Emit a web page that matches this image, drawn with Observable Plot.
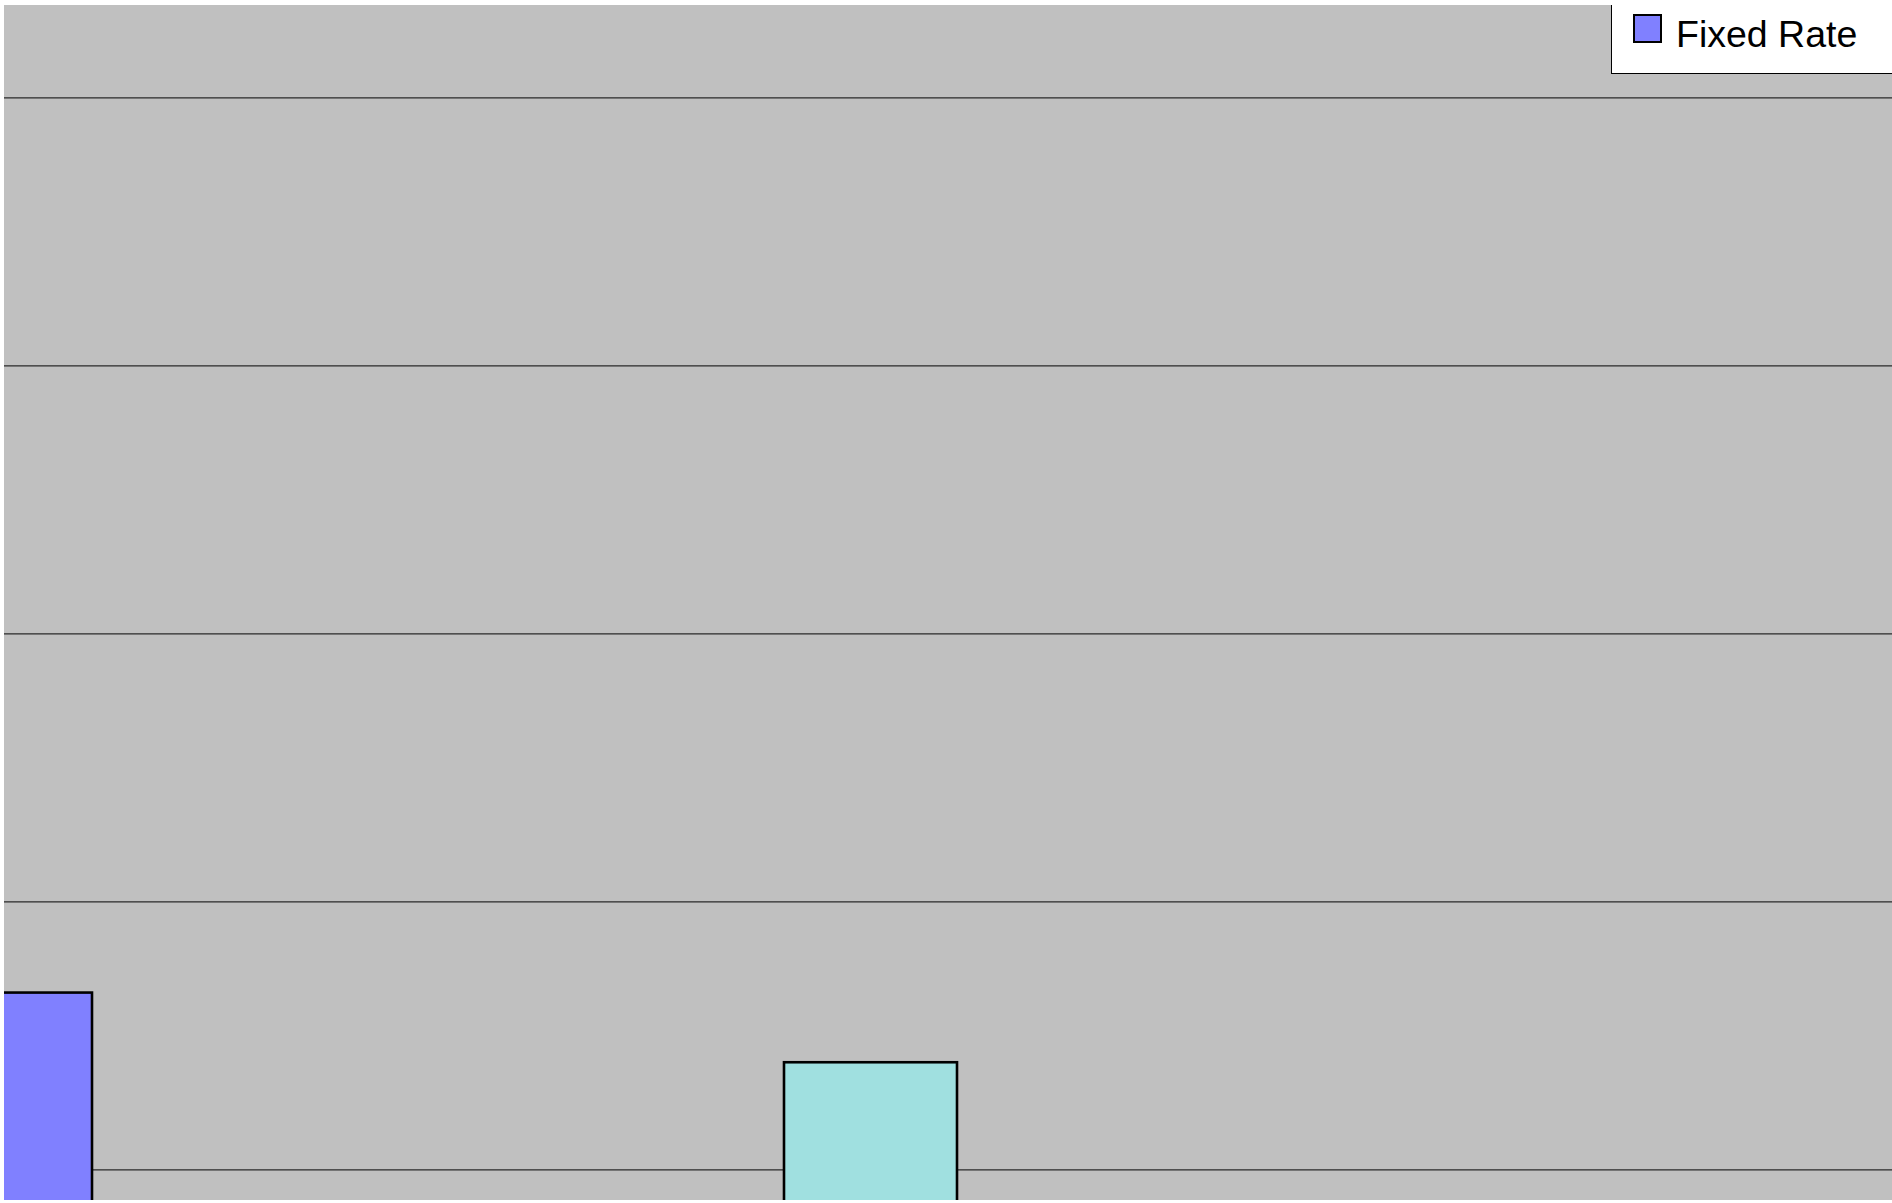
<!DOCTYPE html>
<html>
<head>
<meta charset="utf-8">
<script src="https://cdn.jsdelivr.net/npm/d3@7"></script>
<script src="https://cdn.jsdelivr.net/npm/@observablehq/plot@0.6"></script>
<style>
  html, body { margin: 0; padding: 0; background: #ffffff; }
  #wrap { position: relative; width: 1892px; height: 1203px; overflow: hidden; background: #ffffff; }
  #chart { position: absolute; left: 4px; top: 5px; }
  #legend {
    position: absolute; left: 1611px; top: 5px; width: 281px; height: 68px;
    background: #ffffff; border-left: 1px solid #000; border-bottom: 1px solid #000;
    font-family: "Liberation Sans", Arial, sans-serif; font-size: 37.5px; color: #000;
  }
  #legend .sw { position: absolute; left: 21px; top: 9px; width: 25px; height: 25px; border: 2px solid #000; }
  #legend .lb { position: absolute; left: 64px; top: 8px; line-height: 42px; white-space: nowrap; }
</style>
</head>
<body>
<div id="wrap">
  <div id="chart"></div>
  <div id="legend"></div>
</div>
<script>
// Data read from the (cropped) reference
const categories = ["Fixed Rate", "Variable Rate"];
const values = [5.66, 5.40];
const colors = ["#8080FF", "#A0E0E0"];
const gridTicks = [5, 6, 7, 8, 9];
const legendLabels = ["Fixed Rate"];

const data = categories.map((c, i) => ({ name: c, value: values[i] }));

const chart = Plot.plot({
  width: 1888,
  height: 1195,
  margin: 0,
  style: { background: "#C0C0C0", overflow: "hidden" },
  x: { type: "band", domain: categories, range: [-519, 1386], paddingInner: 0.8, paddingOuter: 0.5, axis: null },
  y: { domain: [4.886, 9.345], axis: null },
  color: { domain: categories, range: colors },
  marks: [
    Plot.ruleY(gridTicks, { stroke: "#2a2a2a", strokeWidth: 1.3 }),
    Plot.barY(data, { x: "name", y: "value", fill: "name", stroke: "#000", strokeWidth: 2.6, clip: true })
  ]
});
document.getElementById("chart").appendChild(chart);

const legend = document.getElementById("legend");
legendLabels.forEach((lab) => {
  const i = categories.indexOf(lab);
  const sw = document.createElement("div");
  sw.className = "sw";
  sw.style.background = colors[i];
  const lb = document.createElement("div");
  lb.className = "lb";
  lb.textContent = lab;
  legend.appendChild(sw);
  legend.appendChild(lb);
});
</script>
</body>
</html>
